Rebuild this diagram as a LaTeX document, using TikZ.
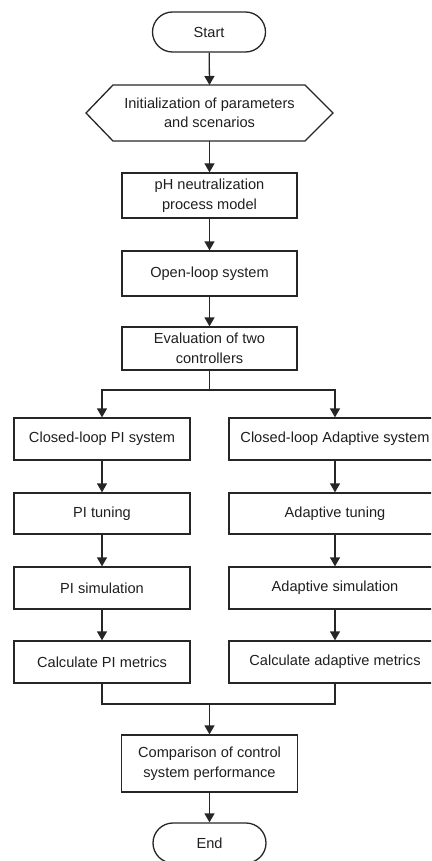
\documentclass[tikz,border=0pt]{standalone}
\usepackage{fontspec}
\setmainfont{Liberation Sans}
\usetikzlibrary{arrows.meta}
\begin{document}
\begin{tikzpicture}[x=1pt,y=-1pt,
  every node/.style={font=\fontsize{14.6}{19.5}\selectfont, text=black!88, align=center, inner sep=0pt},
  box/.style={draw=black!85, line width=1.3pt, rectangle, minimum width=#1},
  box/.default=175pt,
  term/.style={draw=black!85, line width=1.3pt, rectangle, rounded corners=20pt, minimum width=113pt, minimum height=40pt},
  arr/.style={draw=black!85, line width=1.3pt, -{Triangle[width=10pt,length=9pt]}},
  ln/.style={draw=black!85, line width=1.3pt}]
\useasboundingbox (0,0) rectangle (431,861);
\clip (0,0) rectangle (431,861);

\node[term] (start) at (209,32) {Start};
\node (init) at (209.5,113) {Initialization of parameters\\and scenarios};
\draw[ln] (86,113) -- (113,85) -- (305,85) -- (333,113) -- (305,141) -- (113,141) -- cycle;
\coordinate (inittop) at (209.5,85);
\coordinate (initbot) at (209.5,141);
\node[box, minimum height=45pt] (ph) at (209.5,195.5) {pH neutralization\\process model};
\node[box, minimum height=45pt] (open) at (209.5,273.5) {Open-loop system};
\node[box, minimum height=43pt] (eval) at (209.5,348.5) {Evaluation of two\\controllers};

\node[box=176pt, minimum height=42pt] (clpi) at (102,439) {Closed-loop PI system};
\node[box=176pt, minimum height=41pt] (tunpi) at (102,513.5) {PI tuning};
\node[box=176pt, minimum height=42pt] (simpi) at (102,588) {PI simulation};
\node[box=176pt, minimum height=42pt] (calpi) at (102,662) {Calculate PI metrics};

\node[box=212pt, minimum height=42pt] (clad) at (335,439) {Closed-loop Adaptive system};
\node[box=212pt, minimum height=41pt] (tunad) at (335,513.5) {Adaptive tuning};
\node[box=212pt, minimum height=42pt] (simad) at (335,588) {Adaptive simulation};
\node[box=212pt, minimum height=42pt] (calad) at (335,662) {Calculate adaptive metrics};

\node[box=176pt, minimum height=57pt] (comp) at (209.5,763.5) {Comparison of control\\system performance};
\node[term] (end) at (209.5,843) {End};

\coordinate (split) at (209.5,390);
\coordinate (merge) at (209.5,704);

\draw[arr] (start) -- (inittop);
\draw[arr] (initbot) -- (ph);
\draw[arr] (ph) -- (open);
\draw[arr] (open) -- (eval);
\draw[ln] (eval.south) -- (split);
\draw[arr] (split) -| (clpi.north);
\draw[arr] (split) -| (clad.north);
\draw[arr] (clpi) -- (tunpi);
\draw[arr] (tunpi) -- (simpi);
\draw[arr] (simpi) -- (calpi);
\draw[arr] (clad) -- (tunad);
\draw[arr] (tunad) -- (simad);
\draw[arr] (simad) -- (calad);
\draw[ln] (calpi.south) |- (merge);
\draw[ln] (calad.south) |- (merge);
\draw[arr] (merge) -- (comp.north);
\draw[arr] (comp) -- (end);
\end{tikzpicture}
\end{document}
